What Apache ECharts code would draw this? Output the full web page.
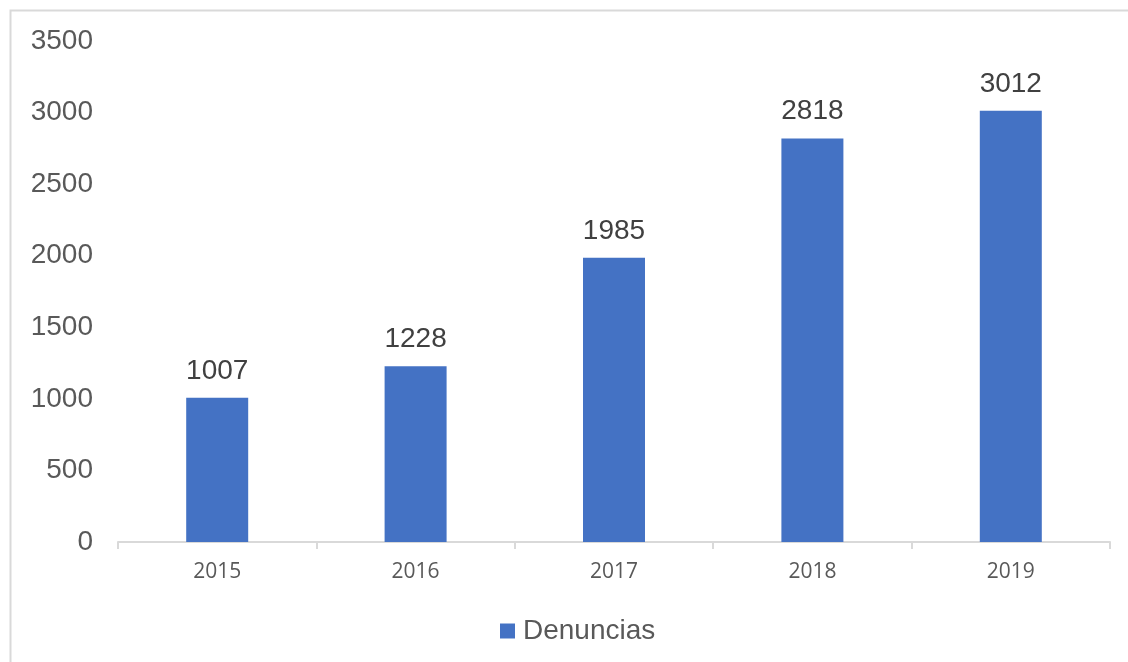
<!DOCTYPE html>
<html>
<head>
<meta charset="utf-8">
<script src="https://cdn.jsdelivr.net/npm/echarts@6/dist/echarts.min.js"></script>
<style>
  html, body { margin: 0; padding: 0; background: #ffffff; }
  #chart { width: 1128px; height: 662px; }
</style>
</head>
<body>
<div id="chart"></div>
<script>
// Denuncias registradas por año
const years = ['2015', '2016', '2017', '2018', '2019'];
const denuncias = [1007, 1228, 1985, 2818, 3012];
const seriesName = 'Denuncias';

const chart = echarts.init(document.getElementById('chart'), null, { renderer: 'canvas' });

chart.setOption({
  backgroundColor: '#ffffff',
  animation: false,
  graphic: [{
    // chart-area frame; right and bottom edges run off the canvas
    type: 'rect',
    silent: true,
    z: -10,
    shape: { x: 10.5, y: 10.5, width: 1200, height: 700 },
    style: { fill: 'none', stroke: '#d9d9d9', lineWidth: 2 }
  }],
  grid: { left: 118, right: 18, top: 41, bottom: 120 },
  legend: {
    data: [seriesName],
    left: 495,
    top: 612,
    icon: 'rect',
    itemWidth: 15,
    itemHeight: 15,
    textStyle: {
      fontFamily: 'Liberation Sans',
      fontSize: 28,
      color: '#595959',
      padding: [0, 0, 0, 3]
    }
  },
  xAxis: {
    type: 'category',
    data: years,
    axisLine: { lineStyle: { color: '#d9d9d9', width: 2 } },
    axisTick: { show: true, length: 7, lineStyle: { color: '#d9d9d9', width: 2 } },
    axisLabel: { fontFamily: 'Open Sans', fontSize: 21, color: '#595959', margin: 20 }
  },
  yAxis: {
    type: 'value',
    min: 0,
    max: 3500,
    interval: 500,
    axisLine: { show: false },
    axisTick: { show: false },
    splitLine: { show: false },
    axisLabel: {
      fontFamily: 'Liberation Sans',
      fontSize: 28,
      color: '#595959',
      margin: 25,
      formatter: (v) => String(v)
    }
  },
  series: [{
    name: seriesName,
    type: 'bar',
    data: denuncias,
    barWidth: 62,
    itemStyle: { color: '#4472c4' },
    label: {
      show: true,
      position: 'top',
      distance: 13,
      fontFamily: 'Liberation Sans',
      fontSize: 28,
      color: '#404040'
    }
  }]
});
</script>
</body>
</html>
